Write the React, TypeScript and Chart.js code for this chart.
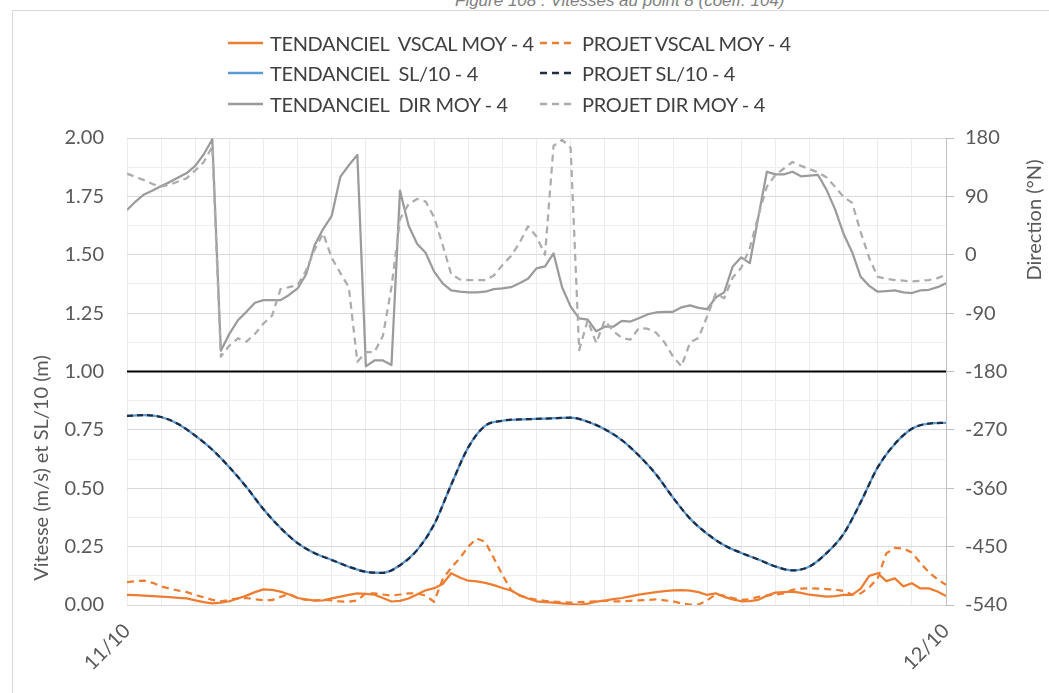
import React, { useEffect, useRef } from 'react';
import { Chart, registerables } from 'chart.js';

Chart.register(...registerables);

// 15-minute time steps over the day 11/10 -> 12/10 (hours)
const HOURS = Array.from({ length: 97 }, (_, i) => i / 4);
// half-hour time steps for the water level series
const SL_HOURS = Array.from({ length: 49 }, (_, i) => i / 2);
const X_TICK_LABELS: Record<number, string> = { 0: '11/10', 24: '12/10' };

const TEND_VSCAL = [
  0.043, 0.042, 0.04, 0.038, 0.036, 0.034, 0.031, 0.028, 0.02, 0.012, 0.007, 0.01, 0.016, 0.028, 0.04, 0.055,
  0.067, 0.065, 0.057, 0.045, 0.03, 0.024, 0.019, 0.02, 0.028, 0.036, 0.043, 0.05, 0.048, 0.044, 0.03, 0.015,
  0.018, 0.028, 0.045, 0.063, 0.072, 0.09, 0.136, 0.118, 0.104, 0.101, 0.095, 0.085, 0.073, 0.062, 0.043, 0.028,
  0.016, 0.012, 0.01, 0.007, 0.004, 0.001, 0.006, 0.014, 0.019, 0.025, 0.03, 0.037, 0.044, 0.05, 0.055, 0.059,
  0.063, 0.064, 0.062, 0.055, 0.043, 0.05, 0.035, 0.024, 0.016, 0.017, 0.022, 0.04, 0.053, 0.055, 0.057, 0.052,
  0.044, 0.04, 0.036, 0.038, 0.043, 0.043, 0.07, 0.125, 0.136, 0.102, 0.114, 0.08, 0.093, 0.071, 0.071, 0.058,
  0.039,
];
const PROJ_VSCAL = [
  0.098, 0.102, 0.104, 0.095, 0.08, 0.07, 0.062, 0.055, 0.043, 0.033, 0.022, 0.016, 0.022, 0.028, 0.03, 0.024,
  0.021, 0.021, 0.035, 0.048, 0.03, 0.022, 0.02, 0.022, 0.02, 0.015, 0.014, 0.02, 0.05, 0.05, 0.045, 0.04,
  0.045, 0.05, 0.05, 0.04, 0.014, 0.11, 0.16, 0.2, 0.25, 0.285, 0.27, 0.2, 0.13, 0.065, 0.04, 0.03,
  0.022, 0.018, 0.015, 0.012, 0.01, 0.012, 0.014, 0.016, 0.018, 0.016, 0.016, 0.018, 0.02, 0.022, 0.024, 0.02,
  0.016, 0.006, 0.002, 0.002, 0.02, 0.045, 0.04, 0.03, 0.022, 0.025, 0.035, 0.04, 0.045, 0.05, 0.065, 0.07,
  0.071, 0.07, 0.068, 0.066, 0.06, 0.045, 0.05, 0.075, 0.115, 0.221, 0.245, 0.242, 0.225, 0.18, 0.14, 0.11,
  0.086,
];
const TEND_SL = [
  0.81, 0.813, 0.805, 0.775, 0.725, 0.665, 0.59, 0.505, 0.41, 0.33, 0.265, 0.222, 0.193, 0.164, 0.142, 0.138,
  0.17, 0.235, 0.345, 0.515, 0.675, 0.768, 0.789, 0.795, 0.797, 0.8, 0.802, 0.785, 0.753, 0.706, 0.64, 0.56,
  0.46, 0.37, 0.305, 0.256, 0.223, 0.195, 0.165, 0.148, 0.165, 0.222, 0.305, 0.44, 0.59, 0.69, 0.755, 0.777,
  0.78,
];
const PROJ_SL = [
  0.81, 0.813, 0.805, 0.775, 0.725, 0.665, 0.59, 0.505, 0.41, 0.33, 0.265, 0.222, 0.193, 0.164, 0.142, 0.138,
  0.17, 0.235, 0.345, 0.515, 0.675, 0.768, 0.789, 0.795, 0.797, 0.8, 0.802, 0.785, 0.753, 0.706, 0.64, 0.56,
  0.46, 0.37, 0.305, 0.256, 0.223, 0.195, 0.165, 0.148, 0.165, 0.222, 0.305, 0.44, 0.59, 0.69, 0.755, 0.777,
  0.78,
];
const TEND_DIR = [
  69, 82, 93, 99, 106, 112, 119, 126, 137, 155, 178, -148, -122, -101, -88, -74,
  -70, -70, -70, -62, -52, -30, 15, 40, 60, 120, 138, 154, -172, -163, -163, -170,
  99, 45, 17, 3, -26, -44, -55, -57, -58, -58, -57, -53, -52, -50, -44, -37,
  -21, -18, 2, -50, -80, -98, -100, -118, -111, -111, -102, -103, -98, -92, -89, -88,
  -88, -81, -78, -82, -84, -66, -58, -18, -4, -13, 58, 128, 124, 124, 128, 121,
  122, 123, 100, 70, 32, 4, -34, -48, -57, -56, -55, -58, -59, -55, -54, -50,
  -44,
];
const PROJ_DIR = [
  125, 120, 115, 109, 105, 108, 113, 118, 130, 143, 167, -157, -140, -129, -134, -122,
  -106, -94, -53, -50, -47, -24, 8, 33, -5, -28, -50, -165, -150, -150, -125, -50,
  55, 78, 86, 82, 58, 15, -30, -38, -39, -39, -39, -32, -16, -2, 18, 44,
  28, 0, 168, 177, 165, -147, -101, -136, -101, -118, -128, -131, -113, -114, -120, -135,
  -157, -172, -135, -128, -95, -60, -67, -35, -20, 10, 60, 105, 123, 133, 143, 137,
  132, 127, 119, 105, 89, 80, 35, -5, -34, -37, -39, -40, -41, -40, -39, -36,
  -31,
];
const REF_HOURS = [0, 24];
const REF_LINE = [1, 1];

const ORANGE = '#ED7D31';
const BLUE = '#5B9BD5';
const DARK = '#1f2c44';
const GRAY = '#9b9b9b';
const LGRAY = '#acacac';
const TEXT = '#595959';
const FONT = 'Lato, "Open Sans", sans-serif';

const LEGEND = [
  { label: 'TENDANCIEL  VSCAL MOY - 4', color: ORANGE, dash: '', col: 0, row: 0 },
  { label: 'PROJET VSCAL MOY - 4', color: ORANGE, dash: '7 5', col: 1, row: 0 },
  { label: 'TENDANCIEL  SL/10 - 4', color: BLUE, dash: '', col: 0, row: 1 },
  { label: 'PROJET SL/10 - 4', color: DARK, dash: '7 5', col: 1, row: 1 },
  { label: 'TENDANCIEL  DIR MOY - 4', color: GRAY, dash: '', col: 0, row: 2 },
  { label: 'PROJET DIR MOY - 4', color: LGRAY, dash: '7 5', col: 1, row: 2 },
];

const pts = (xs: number[], ys: number[]) => xs.map((x, i) => ({ x, y: ys[i] }));

export default function App() {
  const ref = useRef<HTMLCanvasElement | null>(null);

  useEffect(() => {
    if (!ref.current) return;
    const base = { pointRadius: 0, borderWidth: 2.25, fill: false, tension: 0, borderJoinStyle: 'round' as const };
    const chart = new Chart(ref.current, {
      type: 'line',
      data: {
        datasets: [
          { ...base, label: 'ref', data: pts(REF_HOURS, REF_LINE), borderColor: '#000', borderWidth: 2, yAxisID: 'y', order: 0 },
          { ...base, label: 'PROJET SL/10 - 4', data: pts(SL_HOURS, PROJ_SL), borderColor: DARK, borderDash: [6, 4], cubicInterpolationMode: 'monotone', yAxisID: 'y', order: 1 },
          { ...base, label: 'TENDANCIEL SL/10 - 4', data: pts(SL_HOURS, TEND_SL), borderColor: BLUE, cubicInterpolationMode: 'monotone', yAxisID: 'y', order: 2 },
          { ...base, label: 'PROJET VSCAL MOY - 4', data: pts(HOURS, PROJ_VSCAL), borderColor: ORANGE, borderDash: [7, 5], yAxisID: 'y', order: 3 },
          { ...base, label: 'TENDANCIEL VSCAL MOY - 4', data: pts(HOURS, TEND_VSCAL), borderColor: ORANGE, yAxisID: 'y', order: 4 },
          { ...base, label: 'PROJET DIR MOY - 4', data: pts(HOURS, PROJ_DIR), borderColor: LGRAY, borderDash: [7, 5], yAxisID: 'y1', order: 5 },
          { ...base, label: 'TENDANCIEL DIR MOY - 4', data: pts(HOURS, TEND_DIR), borderColor: GRAY, yAxisID: 'y1', order: 6 },
        ],
      },
      options: {
        animation: false,
        responsive: false,
        layout: { padding: { top: 138, left: 0, right: 0, bottom: 0 } },
        plugins: { legend: { display: false }, tooltip: { enabled: false }, title: { display: false } },
        scales: {
          x: {
            type: 'linear',
            min: 0,
            max: 24,
            afterFit: (s: any) => { s.height = 88; },
            border: { display: false },
            grid: { color: '#ececec', lineWidth: 1, drawTicks: false },
            ticks: {
              stepSize: 1,
              autoSkip: false,
              minRotation: 45,
              maxRotation: 45,
              padding: 14,
              color: TEXT,
              font: { family: FONT, size: 20 },
              callback: (v: any) => X_TICK_LABELS[v as number] ?? '',
            },
          },
          y: {
            type: 'linear',
            position: 'left',
            min: 0,
            max: 2,
            afterFit: (s: any) => { s.width = 127; },
            border: { display: false },
            grid: {
              drawTicks: false,
              color: (ctx: any) => {
                const v = ctx.tick ? ctx.tick.value : 0;
                return Math.abs(v * 4 - Math.round(v * 4)) < 1e-6 ? '#d9d9d9' : '#efefef';
              },
            },
            ticks: {
              stepSize: 0.125,
              autoSkip: false,
              padding: 23,
              color: TEXT,
              font: { family: FONT, size: 20 },
              callback: (v: any) => {
                const n = Number(v);
                return Math.abs(n * 4 - Math.round(n * 4)) < 1e-6 ? n.toFixed(2) : '';
              },
            },
          },
          y1: {
            type: 'linear',
            position: 'right',
            min: -540,
            max: 180,
            afterFit: (s: any) => { s.width = 103; },
            border: { display: true, color: '#bfbfbf', width: 1 },
            grid: { drawOnChartArea: false, drawTicks: true, tickLength: 8, color: '#bfbfbf' },
            ticks: {
              stepSize: 90,
              padding: 11,
              color: TEXT,
              font: { family: FONT, size: 20 },
            },
          },
        },
      },
    });
    return () => chart.destroy();
  }, []);

  return (
    <div style={{ position: 'fixed', left: 0, top: 0, width: 1049, height: 693, background: '#fff', overflow: 'hidden', fontFamily: FONT }}>
      <div style={{ position: 'absolute', left: 455, top: -9, fontSize: 17, lineHeight: '20px', fontStyle: 'italic', color: '#7f7f7f', whiteSpace: 'nowrap', fontFamily: '"Liberation Sans", Arial, sans-serif' }}>
        Figure 108 : Vitesses au point 8 (coeff. 104)
      </div>
      <div style={{ position: 'absolute', left: 12, top: 10, width: 1100, height: 800, border: '1px solid #d9d9d9', boxSizing: 'border-box', background: 'transparent' }} />
      <canvas ref={ref} width={1049} height={693} style={{ position: 'absolute', left: 0, top: 0, display: 'block' }} />
      {LEGEND.map((it) => {
        const lx = it.col === 0 ? 228 : 540;
        const cy = [43, 73, 104][it.row];
        return (
          <div key={it.label} style={{ position: 'absolute', left: lx, top: cy - 13, height: 26, display: 'flex', alignItems: 'center', whiteSpace: 'pre' }}>
            <svg width={36} height={6} style={{ display: 'block' }}>
              <line x1={0} y1={3} x2={35} y2={3} stroke={it.color} strokeWidth={2.5} strokeDasharray={it.dash || undefined} />
            </svg>
            <span style={{ marginLeft: 6, fontSize: 20, letterSpacing: '-0.35px', color: '#404040', lineHeight: '26px' }}>{it.label}</span>
          </div>
        );
      })}
      <div style={{ position: 'absolute', left: 40 - 150, top: 468 - 13, width: 300, height: 26, lineHeight: '26px', textAlign: 'center', transform: 'rotate(-90deg)', fontSize: 20, color: TEXT, whiteSpace: 'nowrap' }}>
        Vitesse (m/s) et SL/10 (m)
      </div>
      <div style={{ position: 'absolute', left: 1033 - 100, top: 220 - 13, width: 200, height: 26, lineHeight: '26px', textAlign: 'center', transform: 'rotate(-90deg)', fontSize: 20, color: TEXT, whiteSpace: 'nowrap' }}>
        Direction (°N)
      </div>
    </div>
  );
}
